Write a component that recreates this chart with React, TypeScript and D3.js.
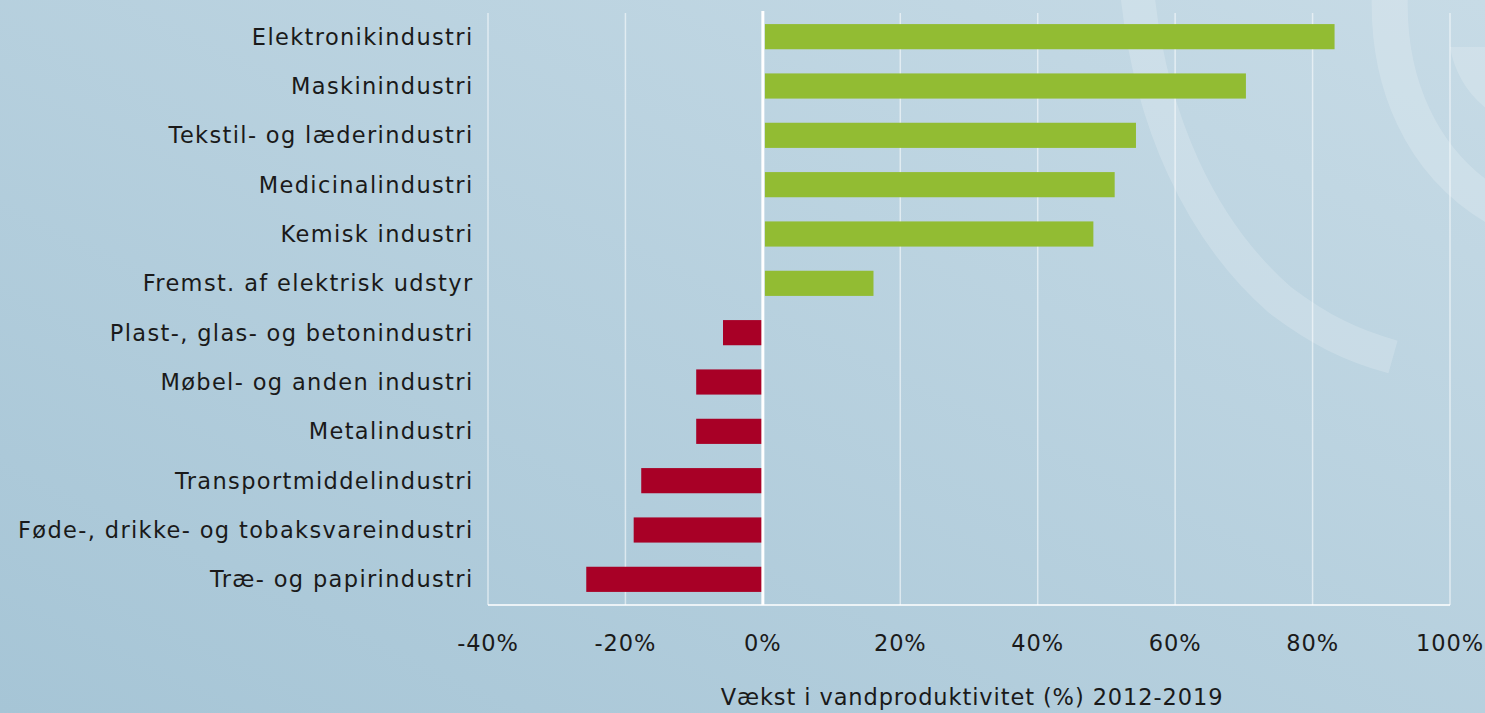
import React from "react";
import * as d3 from "d3";

const categories = [
  "Elektronikindustri",
  "Maskinindustri",
  "Tekstil- og læderindustri",
  "Medicinalindustri",
  "Kemisk industri",
  "Fremst. af elektrisk udstyr",
  "Plast-, glas- og betonindustri",
  "Møbel- og anden industri",
  "Metalindustri",
  "Transportmiddelindustri",
  "Føde-, drikke- og tobaksvareindustri",
  "Træ- og papirindustri",
];
const values = [83.2, 70.3, 54.3, 51.2, 48.1, 16.1, -5.8, -9.7, -9.7, -17.7, -18.8, -25.7];
const xTicks = [-40, -20, 0, 20, 40, 60, 80, 100];
const xTitle = "Vækst i vandproduktivitet (%) 2012-2019";

const W = 1485;
const H = 713;
const FONT = "'DejaVu Sans', sans-serif";
const FS = 22.5;
const LS = 0.9;
const LS_LABEL = 1.35;

export default function App() {
  const x = d3.scaleLinear().domain([-40, 100]).range([488, 1450]);
  const y = d3.scaleBand<string>().domain(categories).range([12, 604]).paddingInner(0.49).paddingOuter(0.245);
  const x0 = x(0);

  return (
    <svg width={W} height={H} style={{ position: "absolute", left: 0, top: 0, display: "block" }}>
      <defs>
        <linearGradient id="bg" x1="0" y1="1" x2="1" y2="0">
          <stop offset="0" stopColor="#a6c5d6" />
          <stop offset="1" stopColor="#c7dbe6" />
        </linearGradient>
      </defs>
      <rect x={0} y={0} width={W} height={H} fill="url(#bg)" />
      {/* decorative arcs */}
      <g fill="none" stroke="#ffffff" strokeOpacity={0.18}>
        <path d="M1137,-10 C1150,120 1200,230 1280,300 C1320,330 1350,345 1393,357" strokeWidth={34} />
        <path d="M1390,-10 C1386,80 1420,165 1500,210" strokeWidth={36} />
      </g>
      <path d="M1450,47 L1500,47 L1500,118 C1470,100 1455,75 1450,47 Z" fill="#ffffff" fillOpacity={0.18} />
      {/* grid */}
      {xTicks.filter((t) => t !== 0).map((t) => (
        <line key={t} x1={x(t)} x2={x(t)} y1={13} y2={605} stroke="#ffffff" strokeOpacity={0.55} strokeWidth={1.5} />
      ))}
      <line x1={488} x2={1450} y1={605} y2={605} stroke="#ffffff" strokeWidth={1.5} />
      {/* bars */}
      {categories.map((c, i) => {
        const v = values[i];
        const xs = v >= 0 ? x0 + 2 : x(v);
        const xe = v >= 0 ? x(v) : x0;
        return (
          <rect key={c} x={xs} y={y(c)} width={xe - xs} height={y.bandwidth()} fill={v >= 0 ? "#92bc33" : "#a80026"} />
        );
      })}
      <line x1={x0} x2={x0} y1={11} y2={605} stroke="#ffffff" strokeWidth={3} />
      {/* labels */}
      {categories.map((c) => (
        <text key={c} x={473.5} y={(y(c) as number) + y.bandwidth() / 2} dy="0.35em" textAnchor="end" fontFamily={FONT} fontSize={FS} letterSpacing={LS_LABEL} fill="#1a1a1a">
          {c}
        </text>
      ))}
      {xTicks.map((t) => (
        <text key={t} x={x(t)} y={643} dy="0.35em" textAnchor="middle" fontFamily={FONT} fontSize={FS} letterSpacing={LS} fill="#1a1a1a">
          {t + "%"}
        </text>
      ))}
      <text x={972} y={697} dy="0.35em" textAnchor="middle" fontFamily={FONT} fontSize={FS} letterSpacing={LS} fill="#1a1a1a">
        {xTitle}
      </text>
    </svg>
  );
}
